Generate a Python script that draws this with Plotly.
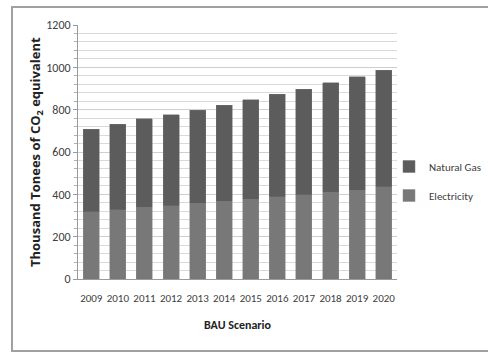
import plotly.graph_objects as go

# BAU scenario emissions, thousand tonnes CO2 equivalent
years = ["2009", "2010", "2011", "2012", "2013", "2014",
         "2015", "2016", "2017", "2018", "2019", "2020"]
electricity = [318, 327, 338, 347, 358, 367, 377, 388, 399, 410, 420, 436]
total = [708, 732, 757, 777, 798, 821, 847, 872, 897, 927, 955, 986]
natural_gas = [t - e for t, e in zip(total, electricity)]

font_family = "Carlito, Lato, Roboto, sans-serif"
title_family = "Open Sans, Lato, sans-serif"

fig = go.Figure()
fig.add_trace(go.Bar(
    x=years, y=electricity, name="Electricity",
    marker=dict(color="#787878", line=dict(color="#8a8a8a", width=0.5)),
    legendgroup="elec", legendrank=2,
))
fig.add_trace(go.Bar(
    x=years, y=natural_gas, name="Natural Gas",
    marker=dict(color="#5c5c5c", line=dict(color="#707070", width=0.5)),
    legendgroup="gas", legendrank=1,
))

L, R, T, B = 78, 397, 25, 279
W, H = 488, 352

def px_x(p):
    return (p - L) / (R - L)

def px_y(p):
    return (B - p) / (B - T)

fig.update_layout(
    width=W, height=H,
    margin=dict(l=L, r=W - R, t=T, b=H - B, pad=0, autoexpand=False),
    barmode="stack",
    bargap=0.4,
    paper_bgcolor="white",
    plot_bgcolor="white",
    font=dict(family=font_family, size=12, color="#404040"),
    showlegend=True,
    legend=dict(
        x=px_x(389), y=px_y(181), xanchor="left", yanchor="middle",
        traceorder="grouped", tracegroupgap=10,
        font=dict(size=11, color="#404040"),
        itemwidth=30, bgcolor="rgba(0,0,0,0)",
    ),
    xaxis=dict(
        showline=True, linecolor="#9a9a9a", linewidth=1,
        ticks="outside", ticklen=9, tickcolor="rgba(0,0,0,0)",
        tickangle=0, tickfont=dict(size=11, color="#404040"),
        showgrid=False,
    ),
    yaxis=dict(
        range=[0, 1200], dtick=200, tick0=0,
        showline=True, linecolor="#9a9a9a", linewidth=1,
        ticks="outside", ticklen=4, tickcolor="#9a9a9a",
        tickfont=dict(size=12, color="#404040"),
        showgrid=True, gridcolor="#cfcfcf", gridwidth=1,
        zeroline=False,
        minor=dict(dtick=40, showgrid=True, gridcolor="#dadada",
                   ticks="outside", ticklen=3, tickcolor="#b0b0b0"),
    ),
    annotations=[
        dict(text="Thousand Tonees of CO<sub>2</sub> equivalent",
             xref="paper", yref="paper", x=px_x(36), y=0.5,
             xanchor="center", yanchor="middle", textangle=-90,
             showarrow=False,
             font=dict(size=13, color="#222222", family=title_family,
                       weight="bold")),
        dict(text="BAU Scenario",
             xref="paper", yref="paper", x=0.5, y=px_y(325),
             xanchor="center", yanchor="middle", showarrow=False,
             font=dict(size=12, color="#222222", family=font_family,
                       weight="bold")),
    ],
    shapes=[
        dict(type="rect", xref="paper", yref="paper",
             x0=px_x(12), x1=px_x(492), y0=px_y(351), y1=px_y(7),
             line=dict(color="#a0a0a0", width=2), layer="below"),
    ],
)

fig.write_html("out.html")
